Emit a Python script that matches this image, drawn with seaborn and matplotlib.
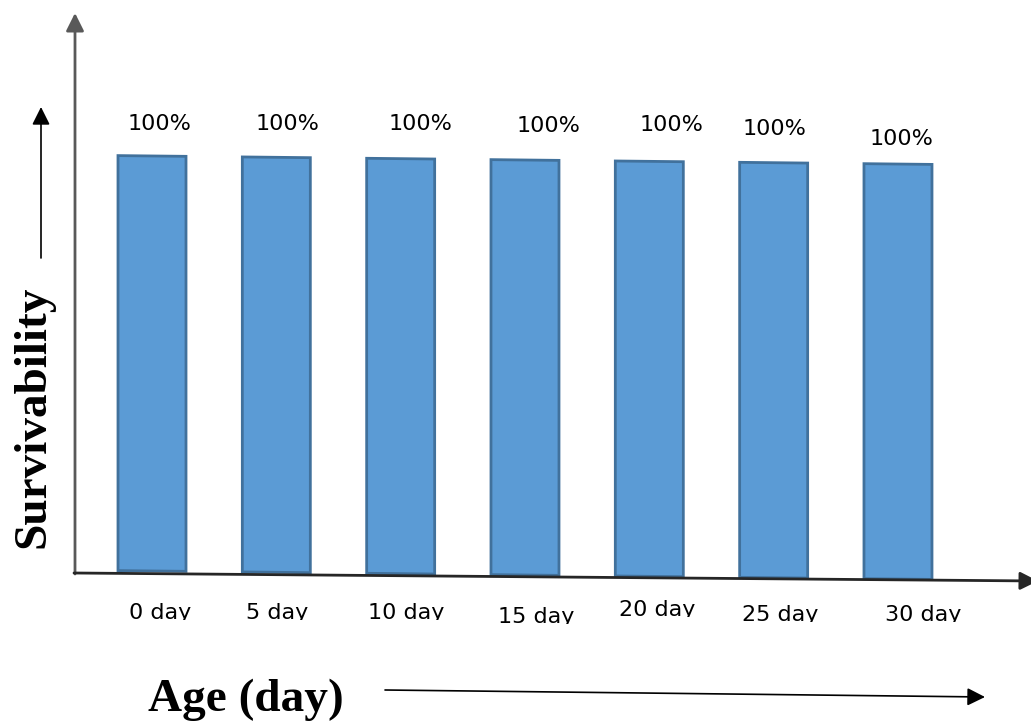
import matplotlib
matplotlib.use("Agg")
import matplotlib.pyplot as plt
import seaborn as sns
import pandas as pd
import numpy as np
from matplotlib.patches import FancyArrowPatch
from matplotlib.transforms import Affine2D, Bbox

# ---- data ----
ages = ["0 day", "5 day", "10 day", "15 day", "20 day", "25 day", "30 day"]
survival = [100, 100, 100, 100, 100, 100, 100]

# ---- layout tweaks (pixels) ----
value_dx = [8, 11, 20, 24, 22, 1, 4]       # horizontal nudge of the % labels
value_dy = [30, 30, 30, 28, 29, 25, 15]    # baseline height above bar top
tick_dx = [8, 1, 6, 11, 8, 7, 25]          # horizontal nudge of category labels
tick_top = [603, 603, 603, 607, 600, 605, 605]  # top of category labels (from top)

W, H = 1031, 721
sns.set_theme(style="white")
plt.rcParams["font.family"] = ["DejaVu Sans"]
plt.rcParams["text.color"] = "black"

fig = plt.figure(figsize=(W / 100, H / 100), dpi=100)
ax = fig.add_axes([75 / W, (H - 575) / H, (1031 - 75) / W, (575 - 13) / H])

df = pd.DataFrame({"age": ages, "survival": survival})
sns.barplot(data=df, x="age", y="survival", color="#5B9BD5", saturation=1,
            width=0.547, edgecolor="#41719C", linewidth=2, ax=ax)

px_per_cat = 124.33
px_per_val = 4.15
x0 = (75 - 152) / px_per_cat
ax.set_xlim(x0, x0 + (1031 - 75) / px_per_cat)
ax.set_ylim(0, (575 - 13) / px_per_val)

# the bar group drifts slightly downward to the right
k = np.tan(np.radians(0.62))
drift = Affine2D.from_values(1, -k, 0, 1, 0, k * 525)
for bar in ax.patches:
    bar.set_transform(ax.transData + drift)
    bar.set_clip_on(False)

# percentage labels above each bar
for i, v in enumerate(survival):
    ax.annotate(f"{v:g}%", xy=(i, v), xytext=(value_dx[i], value_dy[i]),
                textcoords="offset pixels", ha="center", va="baseline",
                fontsize=16, color="black", annotation_clip=False)

# axes appearance
for s in ax.spines.values():
    s.set_visible(False)
ax.set_yticks([])
ax.set_xlabel("")
ax.set_ylabel("")
ax.set_xticks(range(len(ages)), labels=ages)
ax.tick_params(axis="x", length=0, pad=20.2, labelsize=16, labelcolor="black")

fig.canvas.draw()
for i, lab in enumerate(ax.get_xticklabels()):
    lab.set_transform(lab.get_transform() +
                      Affine2D().translate(tick_dx[i], -(tick_top[i] - 603)))
    lab.set_clip_on(True)
    lab.set_clip_box(Bbox.from_extents(0, H - (tick_top[i] + 17), W, H))

# axis arrows
def arrow(p0, p1, color, lw):
    fig.add_artist(FancyArrowPatch(
        (p0[0], H - p0[1]), (p1[0], H - p1[1]), transform=None,
        arrowstyle="-|>,head_length=1.08,head_width=0.54", mutation_scale=10,
        color=color, lw=lw, shrinkA=0, shrinkB=0))

arrow((75, 574), (75, 13), "#595959", 2)
arrow((74, 573), (1038, 581), "#262626", 2)
arrow((41, 258), (41, 107), "black", 1.2)
arrow((385, 690), (985, 697), "black", 1.2)

# axis titles
fig.text(33 / W, (H - 416.5) / H, "Survivability", rotation=90,
         ha="center", va="center", fontsize=34, fontweight="bold",
         color="black", family=["Liberation Serif", "DejaVu Serif"])
fig.text(148 / W, (H - 711) / H, "Age (day)", ha="left", va="baseline",
         fontsize=34, fontweight="bold", color="black",
         family=["Liberation Serif", "DejaVu Serif"])

fig.savefig("out.png", dpi=100)
